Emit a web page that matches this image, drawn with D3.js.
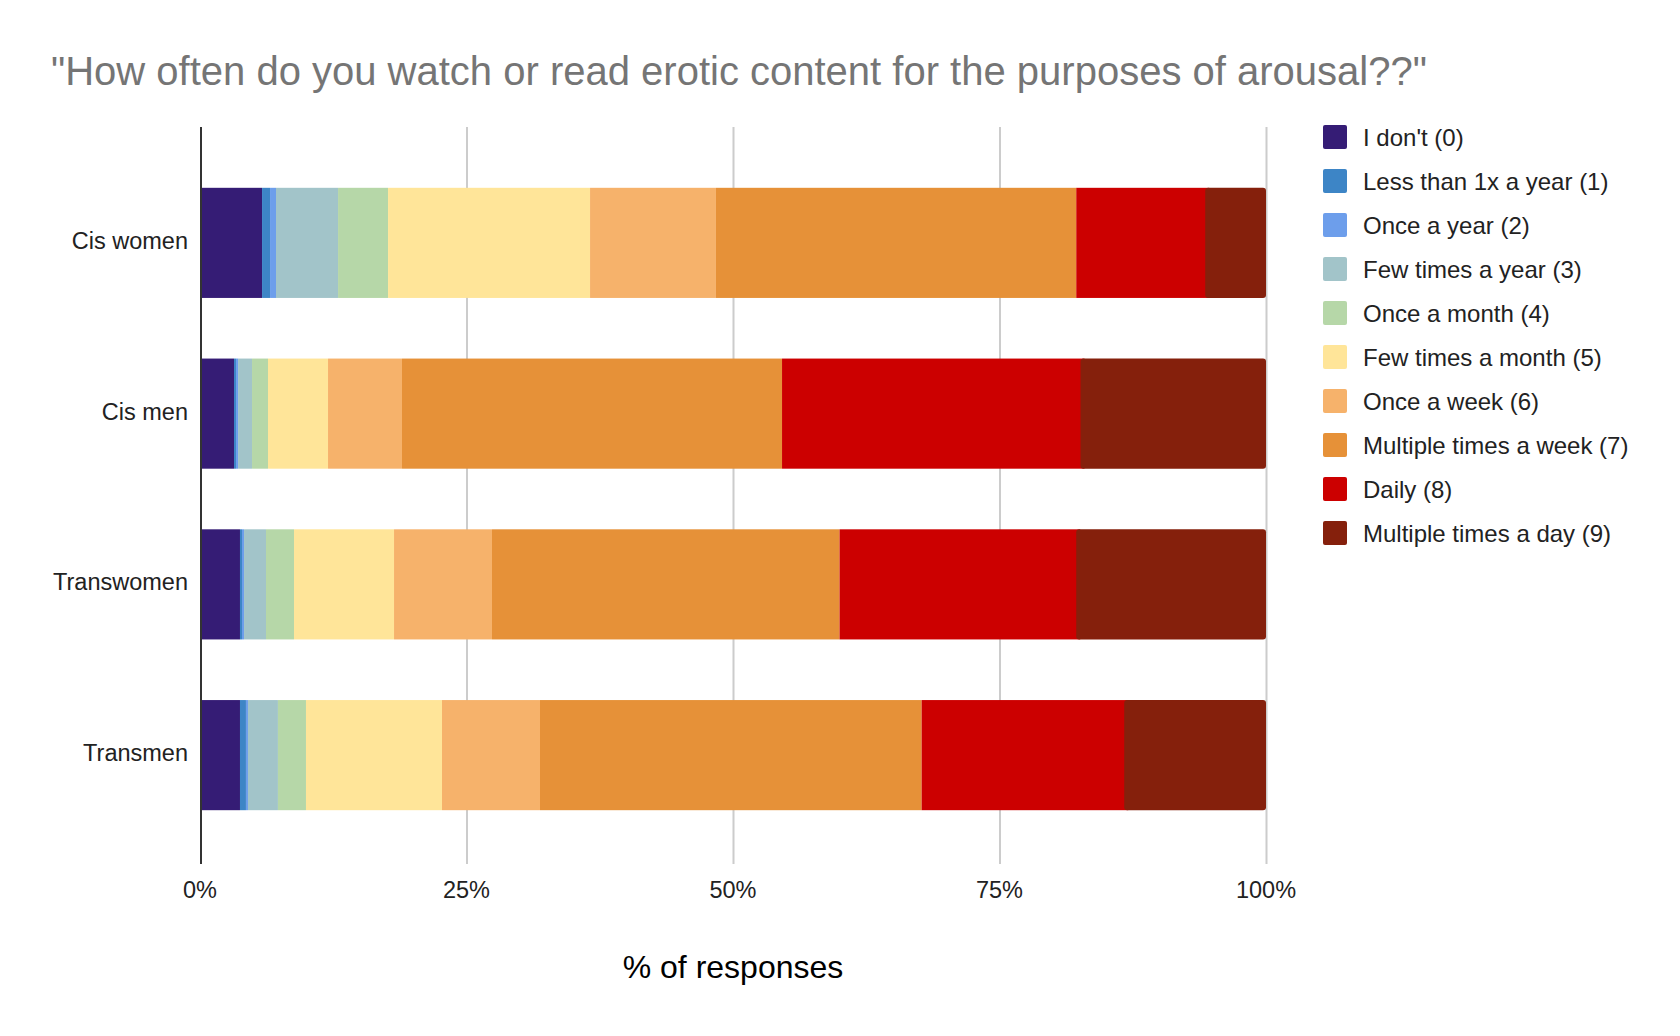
<!DOCTYPE html>
<html>
<head>
<meta charset="utf-8">
<script src="https://cdn.jsdelivr.net/npm/d3@7"></script>
<style>
  body { margin: 0; background: #fff; }
  svg text { font-family: "Liberation Sans", Arial, sans-serif; }
</style>
</head>
<body>
<svg id="chart" width="1680" height="1036"></svg>
<script>
// Groups (y axis)
const groups = ["Cis women", "Cis men", "Transwomen", "Transmen"];

// Answer categories (stack order, left to right)
const frequencies = [
    "I don't (0)",
    "Less than 1x a year (1)",
    "Once a year (2)",
    "Few times a year (3)",
    "Once a month (4)",
    "Few times a month (5)",
    "Once a week (6)",
    "Multiple times a week (7)",
    "Daily (8)",
    "Multiple times a day (9)"
];

const colors = ["#351c75", "#3d85c6", "#6d9eeb", "#a2c4c9", "#b6d7a8",
                "#ffe599", "#f6b26b", "#e69138", "#cc0000", "#85200c"];

// % of responses per group, same order as frequencies
const cisWomen   = [5.82, 0.75, 0.56, 5.82, 4.69, 18.95, 11.81, 33.8, 12.1, 5.7];
const cisMen     = [3.19, 0.19, 0.19, 1.31, 1.50, 5.63, 6.94, 35.65, 28.0, 17.4];
const transwomen = [3.75, 0.19, 0.19, 2.06, 2.63, 9.38, 9.19, 32.6, 22.2, 17.8];
const transmen   = [3.75, 0.56, 0.19, 2.81, 2.63, 12.76, 9.19, 35.8, 19.0, 13.3];

const xTicks = [0, 0.25, 0.5, 0.75, 1];

const svg = d3.select("#chart");
const plot = {left: 200, right: 1266, top: 127, bottom: 864};

// build rows for d3.stack
const valuesByGroup = [cisWomen, cisMen, transwomen, transmen];
const rows = groups.map((g, i) => {
    const row = {group: g};
    const total = d3.sum(valuesByGroup[i]);
    frequencies.forEach((f, j) => row[f] = valuesByGroup[i][j] / total);
    return row;
});
const series = d3.stack().keys(frequencies)(rows);

const x = d3.scaleLinear().domain([0, 1]).range([plot.left, plot.right]);
const y = d3.scaleBand()
    .domain(groups)
    .range([157.5, 840.5])
    .paddingInner(0.355)
    .paddingOuter(0.1775);

const color = d3.scaleOrdinal().domain(frequencies).range(colors);

// Title
svg.append("text")
    .attr("x", 51)
    .attr("y", 85)
    .attr("font-size", "40px")
    .attr("fill", "#757575")
    .text("\"How often do you watch or read erotic content for the purposes of arousal??\"");

// gridlines
svg.append("g")
    .selectAll("line")
    .data(xTicks.slice(1))
    .join("line")
    .attr("x1", d => x(d) + 0.5)
    .attr("x2", d => x(d) + 0.5)
    .attr("y1", plot.top)
    .attr("y2", plot.bottom)
    .attr("stroke", "#cccccc")
    .attr("stroke-width", 2);

// bars
const last = frequencies.length - 1;
svg.append("g")
    .selectAll("g")
    .data(series)
    .join("g")
    .attr("fill", d => color(d.key))
    .selectAll("rect")
    .data(d => d.map(v => ({v, i: d.index})))
    .join("rect")
    .attr("x", d => x(d.v[0]))
    .attr("y", d => y(d.v.data.group))
    .attr("width", d => x(d.v[1]) - x(d.v[0]) + (d.i === last - 1 ? 4 : 0))
    .attr("height", y.bandwidth())
    .attr("rx", d => d.i === last ? 3 : 0);

// baseline (0%)
svg.append("line")
    .attr("x1", x(0) + 1)
    .attr("x2", x(0) + 1)
    .attr("y1", plot.top)
    .attr("y2", plot.bottom)
    .attr("stroke", "#333333")
    .attr("stroke-width", 2);

// y labels
svg.append("g")
    .selectAll("text")
    .data(groups)
    .join("text")
    .attr("x", 188)
    .attr("y", d => y(d) + y.bandwidth() / 2 - 2)
    .attr("text-anchor", "end")
    .attr("dominant-baseline", "central")
    .attr("font-size", "23.5px")
    .attr("fill", "#222222")
    .text(d => d);

// x tick labels
svg.append("g")
    .selectAll("text")
    .data(xTicks)
    .join("text")
    .attr("x", d => x(d))
    .attr("y", 890)
    .attr("text-anchor", "middle")
    .attr("dominant-baseline", "central")
    .attr("font-size", "23.5px")
    .attr("fill", "#222222")
    .text(d3.format(".0%"));

// x axis title
svg.append("text")
    .attr("x", (plot.left + plot.right) / 2)
    .attr("y", 967)
    .attr("text-anchor", "middle")
    .attr("dominant-baseline", "central")
    .attr("font-size", "32px")
    .attr("fill", "#000000")
    .text("% of responses");

// legend
const legend = svg.append("g")
    .selectAll("g")
    .data(frequencies)
    .join("g")
    .attr("transform", (d, i) => `translate(1323, ${137 + i * 44})`);

legend.append("rect")
    .attr("x", 0)
    .attr("y", -12)
    .attr("width", 24)
    .attr("height", 24)
    .attr("rx", 2)
    .attr("fill", d => color(d));

legend.append("text")
    .attr("x", 40)
    .attr("y", 0)
    .attr("dominant-baseline", "central")
    .attr("font-size", "24px")
    .attr("fill", "#222222")
    .text(d => d);
</script>
</body>
</html>
